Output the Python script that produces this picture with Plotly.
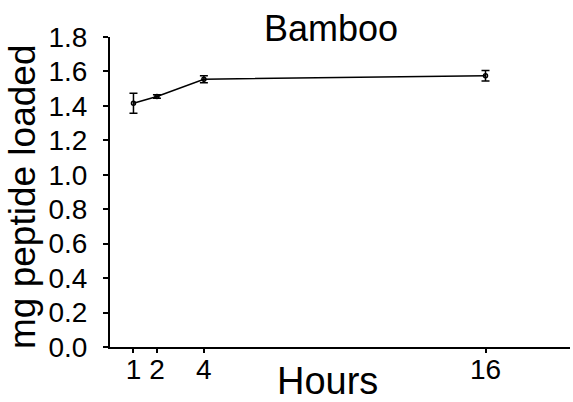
import plotly.graph_objects as go

hours = [1, 2, 4, 16]
loaded = [1.415, 1.455, 1.555, 1.575]
err = [0.058, 0.01, 0.02, 0.03]
y_ticks = [0.0, 0.2, 0.4, 0.6, 0.8, 1.0, 1.2, 1.4, 1.6, 1.8]
x_ticks = [1, 2, 4, 16]

fig = go.Figure(go.Scatter(
    x=hours, y=loaded, mode="lines+markers",
    line=dict(color="black", width=1.5),
    marker=dict(symbol="circle-open", size=4, color="black", line=dict(width=1.5)),
    error_y=dict(type="data", array=err, color="black", thickness=1.5, width=4),
))
font = "Liberation Sans, Arial, sans-serif"
fig.update_layout(
    width=573, height=402, margin=dict(l=110, r=3, t=37, b=55),
    paper_bgcolor="white", plot_bgcolor="white", showlegend=False,
    font=dict(family=font, color="black"),
    title=dict(text="Bamboo", x=331 / 573, xanchor="center", xref="container",
               y=1 - 28 / 402, yanchor="middle", yref="container", font=dict(size=36)),
    annotations=[
        dict(text="Hours", xref="paper", yref="paper", x=(327 - 110) / 460, y=0,
             xanchor="center", yanchor="middle", yshift=-34, showarrow=False,
             font=dict(size=38)),
        dict(text="mg peptide loaded", xref="paper", yref="paper", x=0, y=0.5,
             xanchor="center", yanchor="middle", xshift=-88, yshift=-5, textangle=-90,
             showarrow=False, font=dict(size=37)),
    ],
)
fig.update_xaxes(range=[0, 19.6], tickvals=x_ticks, ticktext=[str(v) for v in x_ticks],
                 showline=True, linecolor="black", linewidth=2, ticks="outside", ticklen=4,
                 tickwidth=1.5, tickcolor="black", showgrid=False, zeroline=False,
                 tickfont=dict(size=28), ticklabelstandoff=-8, automargin=False)
fig.update_yaxes(range=[0, 1.8], tickvals=y_ticks, ticktext=[f"{v:.1f}" for v in y_ticks],
                 showline=True, linecolor="black", linewidth=2, ticks="outside", ticklen=5,
                 tickwidth=1.5, tickcolor="black", showgrid=False, zeroline=False,
                 tickfont=dict(size=28), ticklabelstandoff=10, automargin=False)
fig.write_html("out.html")
